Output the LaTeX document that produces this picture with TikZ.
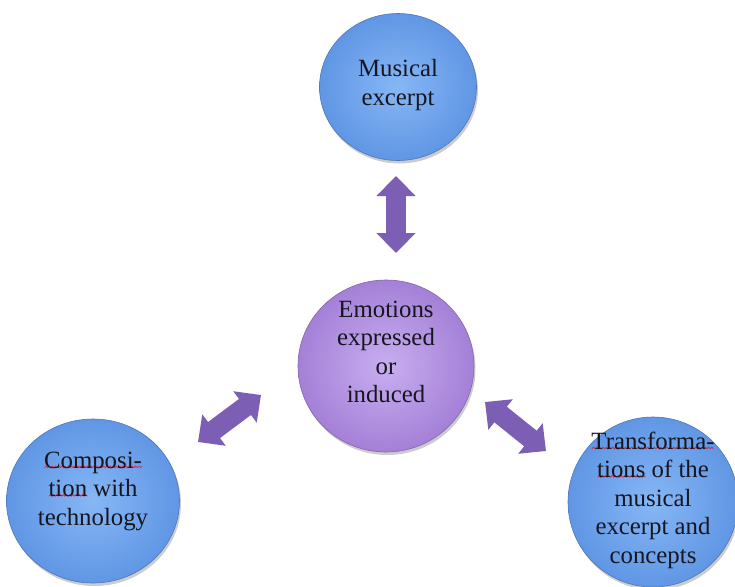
\documentclass[tikz,border=0pt]{standalone}
\usepackage{fontspec}
\setmainfont{Liberation Serif}
\usetikzlibrary{shapes.geometric,arrows.meta,shadows}
\definecolor{blueIn}{RGB}{134,183,245}
\definecolor{blueOut}{RGB}{96,150,228}
\definecolor{purpIn}{RGB}{200,174,240}
\definecolor{purpOut}{RGB}{164,128,215}
\definecolor{arrowCol}{RGB}{124,94,180}
\definecolor{txtCol}{RGB}{22,22,32}
\definecolor{squigCol}{RGB}{212,40,80}
\newcommand{\spellmark}[1]{\setbox0=\hbox{#1}\pgfmathtruncatemacro{\nseg}{\wd0/1.6}%
  \leavevmode\rlap{\smash{\begin{pgfpicture}%
    \pgfsetlinewidth{0.75pt}\pgfsetstrokecolor{squigCol}%
    \pgfpathmoveto{\pgfpoint{0pt}{-4.2pt}}%
    \foreach \k in {1,...,\nseg}{\pgfpathlineto{\pgfpoint{\k*1.6pt}{mod(\k,2)*1.6pt-4.2pt}}}%
    \pgfusepath{stroke}\end{pgfpicture}}}\box0\relax}
\tikzset{
  ball/.style={ellipse, inner sep=0pt,
    drop shadow={shadow xshift=1.5pt, shadow yshift=-3pt, opacity=0.2, fill=black}},
  blueball/.style={ball, shading=radial, inner color=blueIn, outer color=blueOut,
    draw=blueOut!80!black, line width=0.6pt},
  purpball/.style={ball, shading=radial, inner color=purpIn, outer color=purpOut,
    draw=purpOut!80!black, line width=0.6pt},
  balltext/.style={inner sep=0pt, font=\fontsize{24.8}{28.5}\selectfont,
    text=txtCol, align=center},
  bigarrow/.style={draw=arrowCol, line width=20pt,
    {Triangle[width=38pt,length=20pt]}-{Triangle[width=38pt,length=20pt]}, arrowCol}
}
\begin{document}
\begin{tikzpicture}[x=1pt,y=-1pt]
\useasboundingbox (0,0) rectangle (735,586);
\fill[white] (0,0) rectangle (735,586);

\node[blueball, minimum width=157pt, minimum height=147pt] (top) at (398,87) {};
\node[purpball, minimum width=176pt, minimum height=172pt] (mid) at (386,366) {};
\node[blueball, minimum width=173pt, minimum height=164pt] (left) at (93,501) {};
\node[blueball, minimum width=170pt, minimum height=170pt] (right) at (653,502) {};

\node[balltext] (topText) at ([yshift=2pt]top.center) {Musical\\excerpt};
\node[balltext] (midText) at ([yshift=14pt]mid.center) {Emotions\\expressed\\or\\induced};
\node[balltext] (leftText) at ([yshift=10pt]left.center) {\spellmark{Composi-}\\\spellmark{tion} with\\technology};
\node[balltext] (rightText) at ([yshift=2pt]right.center) {\spellmark{Transforma-}\\\spellmark{tions} of the\\musical\\excerpt and\\concepts};

\coordinate (vA) at (396,176);
\coordinate (vB) at (396,253);
\coordinate (lA) at (198,442);
\coordinate (lB) at (261,395);
\coordinate (rA) at (485,402);
\coordinate (rB) at (546,451);

\draw[bigarrow] (vA) -- (vB);
\draw[bigarrow] (lA) -- (lB);
\draw[bigarrow] (rA) -- (rB);
\end{tikzpicture}
\end{document}
